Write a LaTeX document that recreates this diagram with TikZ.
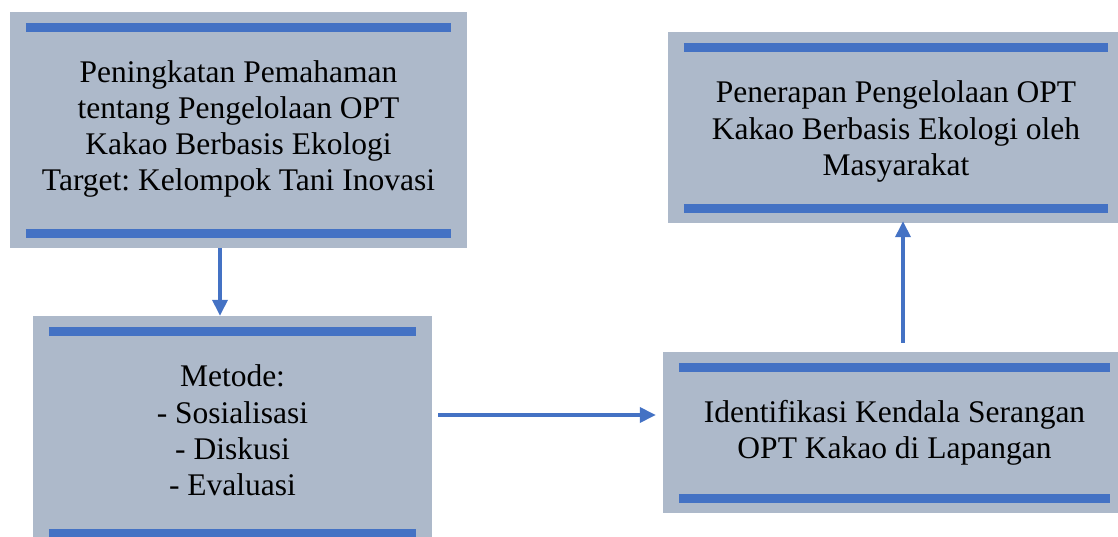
\documentclass[tikz,border=0pt]{standalone}
\usepackage{fontspec}
\setmainfont{Liberation Serif}
\usetikzlibrary{arrows.meta,positioning,calc}
\definecolor{panelGray}{RGB}{173,185,202}
\definecolor{barBlue}{RGB}{68,114,196}
\frenchspacing

\begin{document}
\begin{tikzpicture}[
  x=1pt, y=-1pt,
  panel/.style={fill=panelGray, draw=none, inner sep=0pt},
  txt/.style={anchor=north, inner sep=0pt, align=center,
              font=\fontsize{31.5}{36.2}\selectfont},
  bar/.style={barBlue, line width=9pt},
  flow/.style={barBlue, line width=3.6pt,
               -{Triangle[length=16pt,width=15pt]}},
]
\clip (0,0) rectangle (1118,537);

% Panels
\node[panel, minimum width=457pt, minimum height=236pt] (pemahaman) at (238.5,130) {};
\node[panel, minimum width=399pt, minimum height=232pt] (metode) at (232.5,432) {};
\node[panel, minimum width=456pt, minimum height=191pt] (penerapan) at (896,127.5) {};
\node[panel, minimum width=463pt, minimum height=161pt] (identifikasi) at (894.5,432.5) {};

% Blue bars, top and bottom of each panel
\foreach \n in {pemahaman,metode,penerapan,identifikasi}{
  \draw[bar] ([xshift=16pt,yshift=-15.5pt]\n.north west) -- ([xshift=-16pt,yshift=-15.5pt]\n.north east);
  \draw[bar] ([xshift=16pt,yshift=15pt]\n.south west) -- ([xshift=-16pt,yshift=15pt]\n.south east);
}

% Texts
\node[txt] (pemahamanTxt) at ([yshift=-48.5pt]pemahaman.north)
  {Peningkatan Pemahaman\\tentang Pengelolaan OPT\\Kakao Berbasis Ekologi\\Target: Kelompok Tani Inovasi};
\node[txt] (metodeTxt) at ([yshift=-49pt]metode.north)
  {Metode:\\- Sosialisasi\\- Diskusi\\- Evaluasi};
\node[txt] (penerapanTxt) at ([yshift=-49pt]penerapan.north)
  {Penerapan Pengelolaan OPT\\Kakao Berbasis Ekologi oleh\\Masyarakat};
\node[txt] (identifikasiTxt) at ([yshift=-48.5pt]identifikasi.north)
  {Identifikasi Kendala Serangan\\OPT Kakao di Lapangan};

% Arrows
\draw[flow] ([xshift=-18.5pt]pemahaman.south) -- ([xshift=-12.5pt]metode.north);
\draw[flow] ([xshift=6pt,yshift=17pt]metode.east) -- ([xshift=-7pt,yshift=17.5pt]identifikasi.west);
\draw[flow] ([xshift=8.5pt,yshift=9pt]identifikasi.north) -- ([xshift=7pt,yshift=2pt]penerapan.south);
\end{tikzpicture}
\end{document}
